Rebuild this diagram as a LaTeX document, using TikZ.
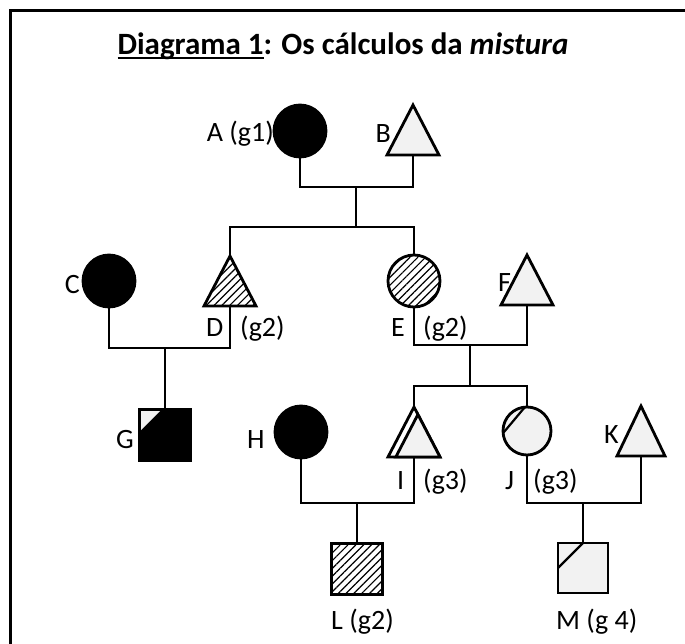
\documentclass[tikz,border=0pt]{standalone}
\usepackage{fontspec}
\setmainfont{Carlito}
\usetikzlibrary{patterns.meta,calc}
\definecolor{lightg}{HTML}{F2F2F2}
% heavy underline sitting just below the baseline
\newcommand{\heavyul}[1]{\setbox0\hbox{#1}\rlap{\rule[-4.2pt]{\wd0}{2.2pt}}\box0}
\tikzset{
  sym/.style={draw, line width=2.8pt, inner sep=0pt, outer sep=0pt},
  fem/.style={sym, circle, minimum size=52pt},
  male/.style={sym, rectangle, minimum size=51pt},
  trislot/.style={rectangle, inner sep=0pt, outer sep=0pt, minimum width=52pt, minimum height=50pt},
  tri/.style={draw, line width=2.8pt, line join=miter},
  conn/.style={line width=2.8pt},
  hatch/.style={pattern={Lines[angle=45,distance=5.5pt,line width=1.2pt]}},
  lbl/.style={font=\fontsize{28}{32}\selectfont, inner sep=0pt, anchor=base west},
  lble/.style={lbl, anchor=base east},
  frame/.style={line width=3pt}
}
\begin{document}
\begin{tikzpicture}[x=1pt,y=-1pt]
\useasboundingbox (0,0) rectangle (685,644);

% outer frame (left and top edges)
\draw[frame] (10,644) -- (10,11) -- (685,11);

% title
\node[font=\fontsize{31}{36}\selectfont\bfseries, anchor=base, inner sep=0pt] (title) at (343,55)
  {\heavyul{Diagrama 1}: Os cálculos da \textit{mistura}};

% individuals
\node[fem, fill=black] (A) at (300,131) {};
\node[trislot] (B) at (413,130) {};
\node[fem, fill=black] (C) at (109,281) {};
\node[trislot] (D) at (230,281) {};
\node[fem, hatch] (E) at (414,281) {};
\node[trislot] (F) at (527,280) {};
\node[male, fill=black] (G) at (165,435) {};
\node[fem, fill=black] (H) at (301,432) {};
\node[trislot] (I) at (414,432) {};
\node[fem, minimum size=48pt, fill=lightg] (J) at (527,431) {};
\node[trislot, minimum width=48pt] (K) at (641,431) {};
\node[male, hatch] (L) at (357,569) {};
\node[male, minimum size=50pt, fill=lightg] (M) at (583,568) {};

% triangles
\draw[tri, fill=lightg] (B.south west) -- (B.north) -- (B.south east) -- cycle;
\draw[tri, hatch] (D.south west) -- (D.north) -- (D.south east) -- cycle;
\draw[tri, fill=lightg] (F.south west) -- (F.north) -- (F.south east) -- cycle;
\draw[tri, fill=lightg] (K.south west) -- (K.north) -- (K.south east) -- cycle;
\draw[tri, fill=white] (I.south west) -- (I.north) -- (I.south east) -- cycle;
\draw[tri, fill=lightg] (I.south east) -- ($(I.south east)!0.85!(I.north)$)
  -- ($(I.south east)!0.85!(I.south west)$) -- cycle;

% partial marks
\fill[lightg] ([shift={(1.6,1.6)}]G.north west) -- ++(19,0) -- ++(-19,19) -- cycle;
\draw[line width=2.2pt] (J.95) -- (J.185);
\draw[line width=2.2pt] (M.north) -- (M.west);

% mating and descent lines
\coordinate (mAB) at (356,187);
\coordinate (sAB) at (356,227);
\coordinate (mCD) at (165,348);
\coordinate (mEF) at (470,345);
\coordinate (sEF) at (470,386);
\coordinate (mHI) at (357,503);
\coordinate (mJK) at (583,503);

\draw[conn] (A.south) |- (mAB) -| (B.south);
\draw[conn] (mAB) -- (sAB);
\draw[conn] (D.north) |- (sAB) -| (E.north);
\draw[conn] (C.south) |- (mCD) -| (D.south);
\draw[conn] (mCD) -- (G.north);
\draw[conn] (E.south) |- (mEF) -| (F.south);
\draw[conn] (mEF) -- (sEF);
\draw[conn] (I.north) |- (sEF) -| (J.north);
\draw[conn] (H.south) |- (mHI) -| (I.south);
\draw[conn] (mHI) -- (L.north);
\draw[conn] (J.south) |- (mJK) -| (K.south);
\draw[conn] (mJK) -- (M.north);

% labels
\node[lble] (lA) at (274,142) {A (g1)};
\node[lble] (lB) at (391,143) {B};
\node[lble] (lC) at (80,294) {C};
\node[lbl] (lD) at (206,336) {D};
\node[lbl] (gD) at (240,336) {(g2)};
\node[lbl] (lE) at (391,336) {E};
\node[lbl] (gE) at (423,336) {(g2)};
\node[lbl] (lF) at (498,291) {F};
\node[lbl] (lG) at (116,448) {G};
\node[lbl] (lH) at (247,448) {H};
\node[lbl] (lI) at (397,489) {I};
\node[lbl] (gI) at (423,489) {(g3)};
\node[lbl] (lJ) at (505,489) {J};
\node[lbl] (gJ) at (533,489) {(g3)};
\node[lbl] (lK) at (604,443) {K};
\node[lbl] (lL) at (331,629) {L (g2)};
\node[lbl] (lM) at (556,629) {M (g 4)};
\end{tikzpicture}
\end{document}
